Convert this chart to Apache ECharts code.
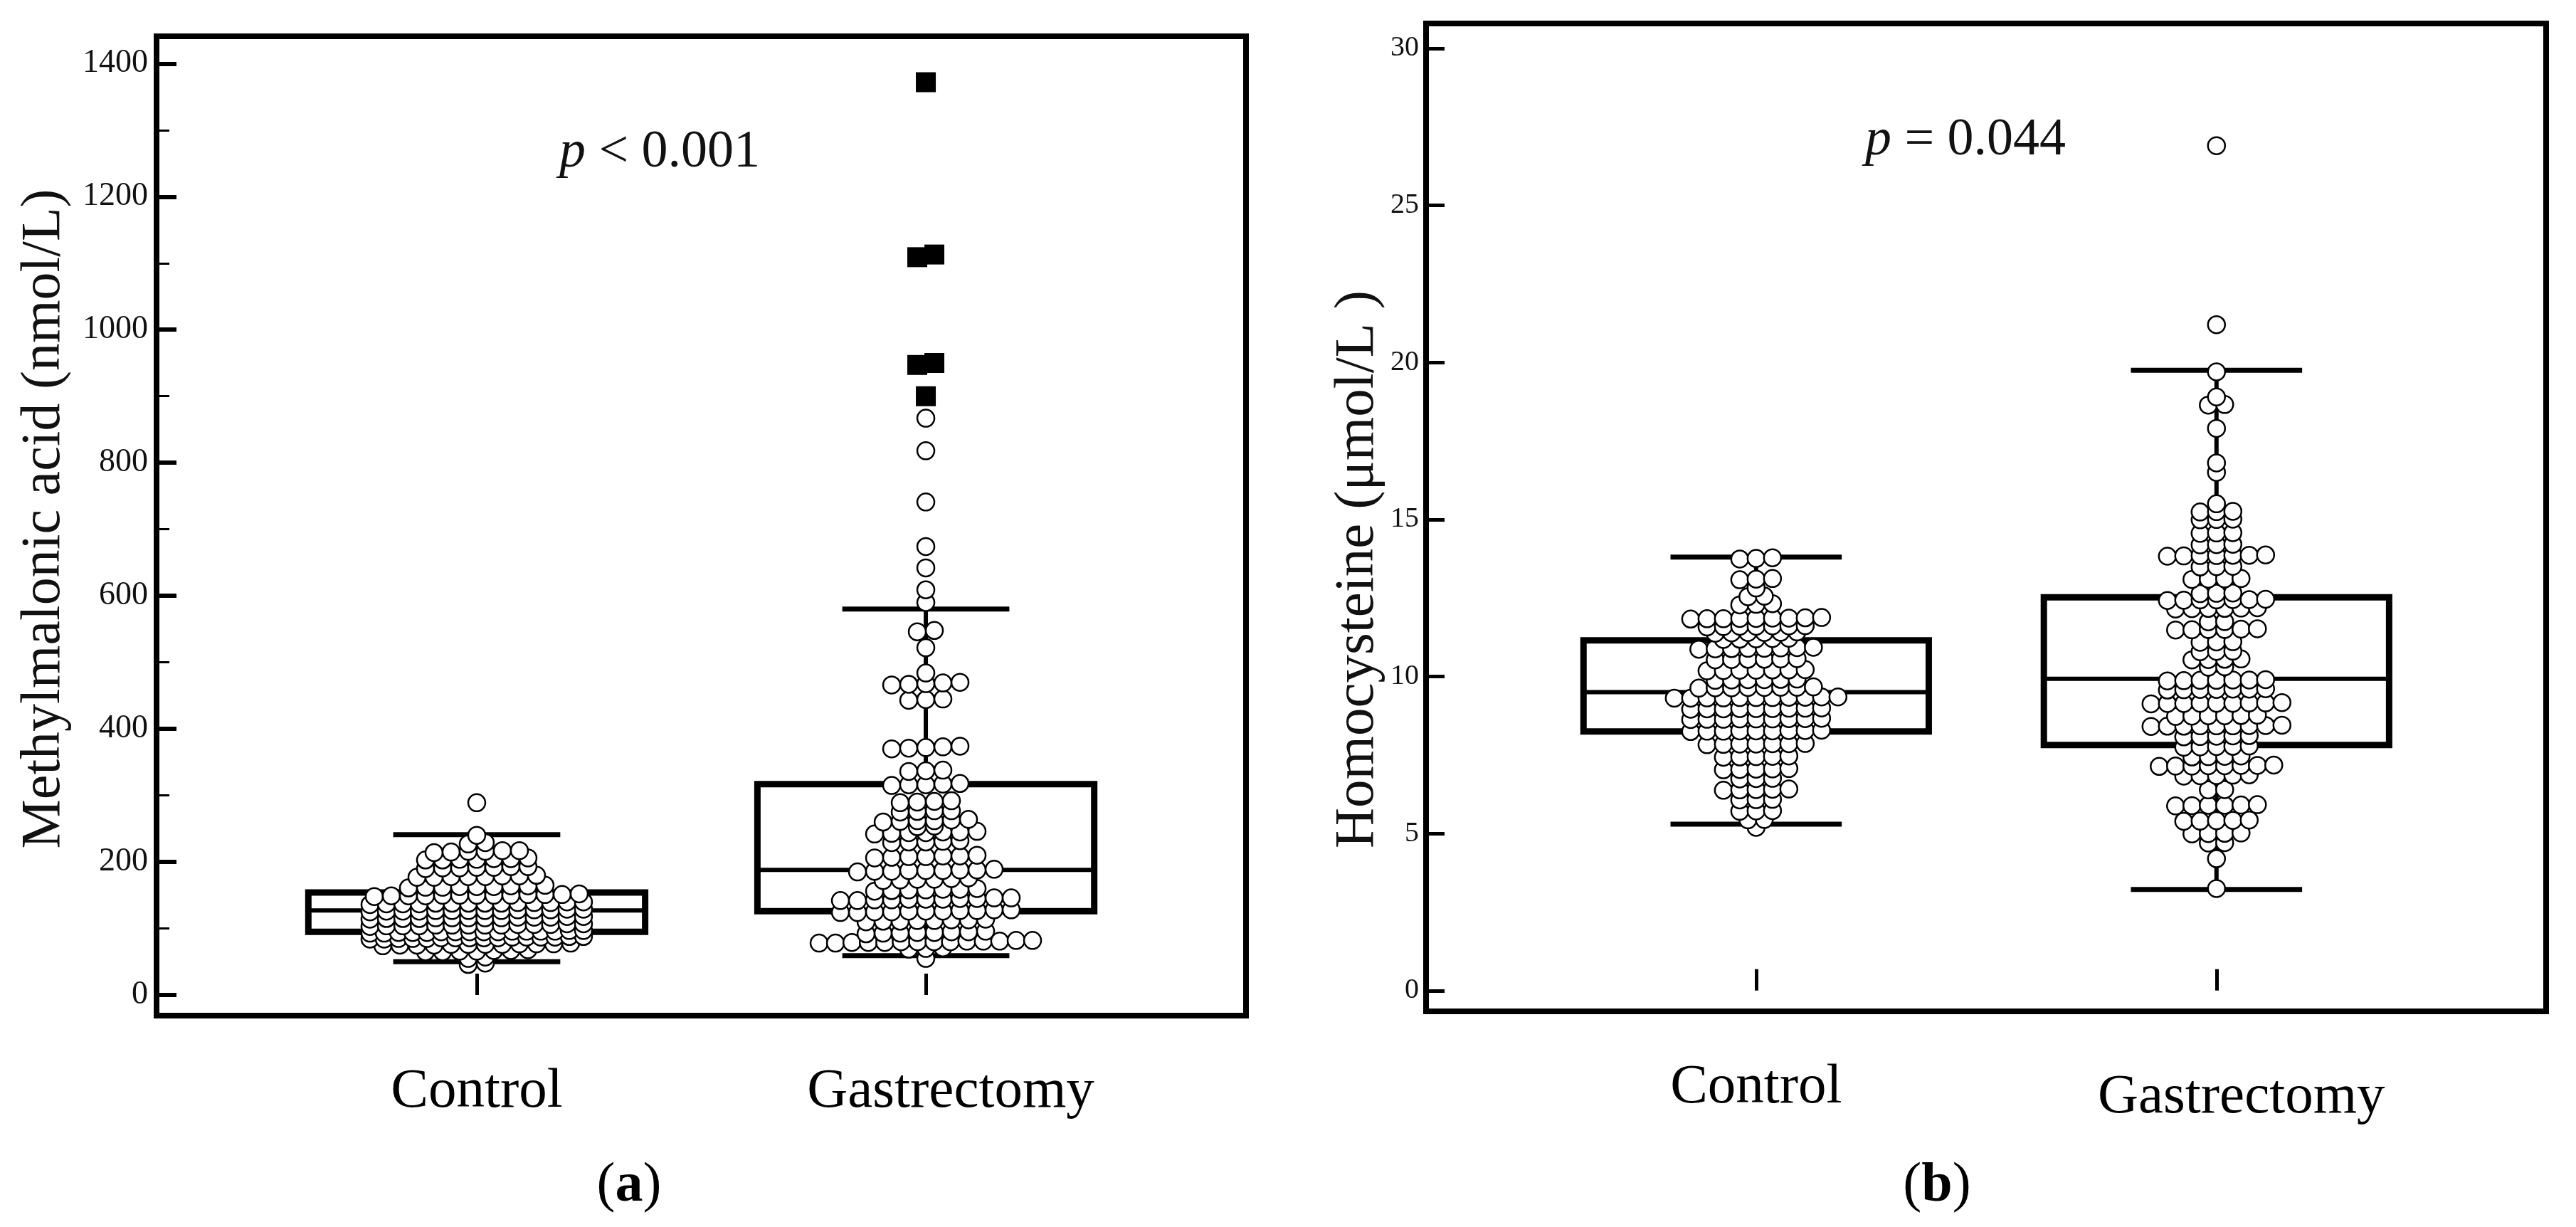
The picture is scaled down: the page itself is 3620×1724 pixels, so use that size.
<!DOCTYPE html>
<html>
<head>
<meta charset="utf-8">
<script src="https://cdn.jsdelivr.net/npm/echarts@6/dist/echarts.min.js"></script>
<style>
  html, body { margin: 0; padding: 0; background: #fff; }
  #chart { width: 3620px; height: 1724px; }
</style>
</head>
<body>
<div id="chart"></div>
<script>
// groups and axis ticks
var groups = ['Control', 'Gastrectomy'];
var mmaTicks = [0, 200, 400, 600, 800, 1000, 1200, 1400];
var mmaMinorTicks = [100, 300, 500, 700, 900, 1100, 1300];
var hcyTicks = [0, 5, 10, 15, 20, 25, 30];

// box stats: [min, Q1, median, Q3, max]
var mmaControlBox = [50, 95, 127, 154, 241];
var mmaGastroBox = [59, 126, 188, 317, 580];
var hcyControlBox = [5.3, 8.25, 9.5, 11.15, 13.8];
var hcyGastroBox = [3.22, 7.82, 9.93, 12.52, 19.75];

// methylmalonic acid (nmol/L)
var mmaControl = [
  289,
  240,
  229, 227,
  217, 216, 216, 215, 217, 214,
  205, 204, 203, 205, 204, 203, 206,
  193, 191, 192, 190, 193, 192, 191,
  179, 178, 177, 178, 180, 177, 179, 178,
  164, 163, 162, 163, 165, 162, 164, 163, 161,
  151, 150, 149, 150, 152, 149, 151, 150, 148, 150, 151, 149, 150,
  139, 138, 137, 138, 140, 137, 139, 138, 136, 138, 139, 137, 138, 140,
  128, 127, 126, 127, 129, 126, 128, 127, 125, 127, 128, 126, 127, 129,
  117, 116, 115, 116, 118, 115, 117, 116, 114, 116, 117, 115, 116, 118,
  106, 105, 104, 105, 107, 104, 106, 105, 103, 105, 106, 104, 105, 107,
  96, 95, 94, 95, 97, 94, 96, 95, 93, 95, 96, 94, 95, 97, 93, 96,
  87, 86, 85, 86, 88, 85, 87, 86, 84, 86, 87, 85, 86, 88, 84, 87,
  77, 76, 75, 76, 78, 75, 77, 76, 74, 76, 77, 75,
  67, 66, 65, 66, 68, 65, 67,
  57, 55,
  48, 46
];
var mmaGastro = [
  867, 818, 741, 674, 642, 609, 590, 548, 546, 522, 484,
  470, 468, 467, 469, 466,
  445, 443, 444,
  373, 372, 371, 374, 370,
  338, 337, 336,
  317, 316, 315, 318, 316,
  291, 290, 289, 292,
  277, 276, 275, 277,
  263, 262, 261, 264, 262, 260,
  254, 253,
  245, 244, 243, 246, 244, 242, 245,
  231, 230, 229, 232, 230,
  209, 208, 207, 210, 208, 206, 209,
  188, 187, 186, 189, 187, 185, 188, 186, 187,
  175, 174, 173, 176, 174, 172,
  159, 158, 157, 160, 158, 156, 159,
  145, 144, 143, 146, 144, 142, 145, 143, 144, 146, 142,
  127, 126, 125, 128, 126, 124, 127, 125, 126, 128, 124,
  113, 112, 111, 114, 112, 110, 113, 111,
  95, 94, 93, 96, 94, 92, 95, 93,
  81, 80, 79, 82, 80, 78, 81, 79, 80, 82, 78, 81, 79, 80,
  71, 70, 69,
  55
];
// far-out values, drawn as filled squares
var mmaGastroFar = [1372, 1113, 1109, 950, 947, 900];

// homocysteine (umol/L)
var hcyControl = [
  13.78, 13.74, 13.76,
  13.12, 13.08, 13.1,
  12.82,
  12.56, 12.54,
  12.3, 12.28, 12.32,
  11.86, 11.84, 11.85, 11.87, 11.83, 11.86, 11.84, 11.85, 11.88,
  11.61, 11.6, 11.59, 11.62, 11.58, 11.6, 11.61,
  11.4, 11.41, 11.39, 11.42, 11.38, 11.4,
  11.2, 11.21, 11.19, 11.22, 11.18,
  10.9, 10.91, 10.89, 10.92, 10.88, 10.9, 10.93, 10.87,
  10.55, 10.56, 10.54, 10.57, 10.53, 10.55,
  10.2, 10.21, 10.19, 10.22, 10.18, 10.2, 10.21,
  9.9, 9.91, 9.89, 9.92, 9.88, 9.9,
  9.65, 9.66, 9.64, 9.67, 9.63, 9.65, 9.66, 9.64,
  9.33, 9.34, 9.32, 9.35, 9.31, 9.33, 9.34, 9.32, 9.35, 9.31, 9.33,
  8.98, 8.99, 8.97, 9.0, 8.96, 8.98, 8.99, 8.97, 8.98,
  8.65, 8.66, 8.64, 8.67, 8.63, 8.65, 8.66, 8.64, 8.65,
  8.27, 8.28, 8.26, 8.29, 8.25, 8.27, 8.28, 8.26, 8.27,
  7.85, 7.86, 7.84, 7.87, 7.83, 7.85, 7.86,
  7.45, 7.46, 7.44, 7.47, 7.43,
  7.05, 7.06, 7.04, 7.07, 7.03,
  6.75, 6.76, 6.74,
  6.4, 6.41, 6.39, 6.42, 6.38,
  6.08, 6.09, 6.07,
  5.72, 5.73, 5.71,
  5.45, 5.44,
  5.2
];
var hcyGastro = [
  26.9, 21.2, 19.7, 18.9, 18.66, 18.64, 17.9, 16.8, 16.5, 15.5,
  15.26, 15.24, 15.25,
  15.0, 15.01, 14.99,
  14.57, 14.58, 14.56,
  14.2, 14.21, 14.19,
  13.85, 13.86, 13.84, 13.87, 13.83, 13.85, 13.86,
  13.5, 13.51, 13.49,
  13.1, 13.11, 13.09, 13.12,
  12.65, 12.66, 12.64,
  12.44, 12.45, 12.43, 12.46, 12.42, 12.44, 12.45,
  12.17, 12.18, 12.16, 12.19, 12.15, 12.17,
  11.74, 11.75,
  11.5, 11.51, 11.49, 11.52, 11.48, 11.5,
  11.1, 11.11, 11.09,
  10.8, 10.81, 10.79,
  10.54, 10.55, 10.53, 10.56,
  10.3, 10.31,
  9.88, 9.89, 9.87, 9.9, 9.86, 9.88, 9.89,
  9.59, 9.6, 9.58, 9.61, 9.57, 9.59, 9.6,
  9.15, 9.16, 9.14, 9.17, 9.13, 9.15, 9.16, 9.14, 9.15,
  8.75, 8.76, 8.74, 8.77, 8.73, 8.75,
  8.43, 8.44, 8.42, 8.45, 8.41, 8.43, 8.44, 8.42, 8.43,
  8.1, 8.11, 8.09, 8.12, 8.08,
  7.77, 7.78, 7.76, 7.79, 7.75,
  7.45, 7.46, 7.44, 7.47,
  7.16, 7.17, 7.15, 7.18, 7.14, 7.16, 7.17, 7.15,
  6.85, 6.86, 6.84, 6.87, 6.83,
  6.39, 6.4,
  5.9, 5.91, 5.89, 5.92, 5.88, 5.9,
  5.41, 5.42, 5.4, 5.43, 5.39,
  5.0, 5.01, 4.99, 5.02,
  4.7, 4.71,
  4.2, 3.25
];

var serif = "'Liberation Serif', 'Times New Roman', serif";

// panel layout (px) and axis ranges
var panelA = { left: 220, top: 51, width: 1531, height: 1376, xMin: 0.287, xMax: 2.713, yMin: -31, yMax: 1441 };
var panelB = { left: 2004, top: 33, width: 1574, height: 1388, xMin: 0.283, xMax: 2.716, yMin: -0.66, yMax: 30.79 };

// dot-plot layout: values close together share a row, rows are centred
// and squeezed when they get wider than maxW
function dotRows(values, center, panel, tol, dot, maxW) {
  var pxPerUnit = panel.width / (panel.xMax - panel.xMin);
  var sorted = values.slice().sort(function (a, b) { return a - b; });
  var rows = [], cur = null;
  sorted.forEach(function (v) {
    if (!cur || v - cur.start > tol) {
      cur = { start: v, vals: [] };
      rows.push(cur);
    }
    cur.vals.push(v);
  });
  var pts = [];
  rows.forEach(function (r) {
    var n = r.vals.length;
    var step = n > 1 ? Math.min(dot, maxW / (n - 1)) : 0;
    r.vals.forEach(function (v, i) {
      pts.push([center + (i - (n - 1) / 2) * step / pxPerUnit, v]);
    });
  });
  return pts;
}

function boxItem(params, api) {
  var c = api.value(0);
  var lo = api.value(1), q1 = api.value(2), md = api.value(3), q3 = api.value(4), hi = api.value(5);
  var hw = 0.375, cw = 0.186;
  function p(x, y) { return api.coord([x, y]); }
  function seg(x1, y1, x2, y2, w) {
    var a = p(x1, y1), b = p(x2, y2);
    return { type: 'line', shape: { x1: a[0], y1: a[1], x2: b[0], y2: b[1] },
      style: { stroke: '#000', lineWidth: w } };
  }
  var tl = p(c - hw, q3), br = p(c + hw, q1);
  return {
    type: 'group',
    children: [
      seg(c, q3, c, hi, 6),
      seg(c, q1, c, lo, 6),
      seg(c - cw, hi, c + cw, hi, 7),
      seg(c - cw, lo, c + cw, lo, 7),
      { type: 'rect', shape: { x: tl[0], y: tl[1], width: br[0] - tl[0], height: br[1] - tl[1] },
        style: { fill: 'none', stroke: '#000', lineWidth: 9 } },
      seg(c - hw, md, c + hw, md, 6)
    ]
  };
}

function xAxisFor(gridIndex, panel, labelShift) {
  return {
    type: 'value', gridIndex: gridIndex, min: panel.xMin, max: panel.xMax,
    axisLine: { show: false },
    splitLine: { show: false },
    axisTick: { show: true, inside: true, length: 30, customValues: [1, 2],
      lineStyle: { color: '#000', width: 5 } },
    axisLabel: {
      customValues: [1, 2], margin: 68, color: '#000',
      fontFamily: serif, fontSize: 79,
      formatter: function (v) { return v === 1 ? groups[0] : '{g|' + groups[1] + '}'; },
      rich: { g: { fontFamily: serif, fontSize: 79, color: '#000', padding: [labelShift, 0, 0, 70] } }
    }
  };
}

function plainLabel(v) { return String(v); }

var chart = echarts.init(document.getElementById('chart'));

var option = {
  backgroundColor: '#fff',
  animation: false,
  grid: [
    { left: panelA.left, top: panelA.top, width: panelA.width, height: panelA.height,
      show: true, borderColor: '#000', borderWidth: 8, backgroundColor: 'transparent' },
    { left: panelB.left, top: panelB.top, width: panelB.width, height: panelB.height,
      show: true, borderColor: '#000', borderWidth: 8, backgroundColor: 'transparent' }
  ],
  xAxis: [xAxisFor(0, panelA, 0), xAxisFor(1, panelB, 14)],
  yAxis: [
    { type: 'value', gridIndex: 0, position: 'left', min: panelA.yMin, max: panelA.yMax,
      axisLine: { show: false }, splitLine: { show: false },
      axisTick: { show: true, inside: true, length: 28, customValues: mmaTicks,
        lineStyle: { color: '#000', width: 6 } },
      axisLabel: { customValues: mmaTicks, margin: 12, color: '#111', fontFamily: serif, fontSize: 46,
        formatter: plainLabel } },
    { type: 'value', gridIndex: 0, position: 'left', min: panelA.yMin, max: panelA.yMax,
      axisLine: { show: false }, splitLine: { show: false },
      axisTick: { show: true, inside: true, length: 18, customValues: mmaMinorTicks,
        lineStyle: { color: '#000', width: 3 } },
      axisLabel: { show: false } },
    { type: 'value', gridIndex: 1, position: 'left', min: panelB.yMin, max: panelB.yMax,
      axisLine: { show: false }, splitLine: { show: false },
      axisTick: { show: true, inside: true, length: 26, customValues: hcyTicks,
        lineStyle: { color: '#000', width: 5 } },
      axisLabel: { customValues: hcyTicks, margin: 10, color: '#111', fontFamily: serif, fontSize: 40,
        formatter: plainLabel } }
  ],
  graphic: [
    { type: 'text', x: 63, y: 729, rotation: Math.PI / 2,
      style: { text: 'Methylmalonic acid (nmol/L)', fontFamily: serif, fontSize: 78, fill: '#111',
        textAlign: 'center', textVerticalAlign: 'middle' } },
    { type: 'text', x: 1908, y: 800, rotation: Math.PI / 2,
      style: { text: 'Homocysteine (\u03bcmol/L )', fontFamily: serif, fontSize: 79, fill: '#111',
        textAlign: 'center', textVerticalAlign: 'middle' } },
    { type: 'text', x: 927, y: 215,
      style: { text: '{i|p} < 0.001', fontFamily: serif, fontSize: 74, fill: '#111',
        textAlign: 'center', textVerticalAlign: 'middle',
        rich: { i: { fontFamily: serif, fontSize: 74, fontStyle: 'italic', fill: '#111' } } } },
    { type: 'text', x: 2762, y: 198,
      style: { text: '{i|p} = 0.044', fontFamily: serif, fontSize: 74, fill: '#111',
        textAlign: 'center', textVerticalAlign: 'middle',
        rich: { i: { fontFamily: serif, fontSize: 74, fontStyle: 'italic', fill: '#111' } } } },
    { type: 'text', x: 884, y: 1667,
      style: { text: '({b|a})', fontFamily: serif, fontSize: 78, fill: '#000',
        textAlign: 'center', textVerticalAlign: 'middle',
        rich: { b: { fontFamily: serif, fontSize: 78, fontWeight: 'bold', fill: '#000' } } } },
    { type: 'text', x: 2722, y: 1667,
      style: { text: '({b|b})', fontFamily: serif, fontSize: 78, fill: '#000',
        textAlign: 'center', textVerticalAlign: 'middle',
        rich: { b: { fontFamily: serif, fontSize: 78, fontWeight: 'bold', fill: '#000' } } } }
  ],
  series: [
    { type: 'custom', xAxisIndex: 0, yAxisIndex: 0, renderItem: boxItem, z: 1,
      encode: { x: 0, y: [1, 2, 3, 4, 5] },
      data: [[1].concat(mmaControlBox), [2].concat(mmaGastroBox)] },
    { type: 'custom', xAxisIndex: 1, yAxisIndex: 2, renderItem: boxItem, z: 1,
      encode: { x: 0, y: [1, 2, 3, 4, 5] },
      data: [[1].concat(hcyControlBox), [2].concat(hcyGastroBox)] },
    { type: 'scatter', xAxisIndex: 0, yAxisIndex: 0, z: 3, symbol: 'circle', symbolSize: 24,
      itemStyle: { color: '#fff', borderColor: '#000', borderWidth: 2.5, opacity: 1 },
      data: dotRows(mmaControl, 1, panelA, 5, 24, 300).concat(dotRows(mmaGastro, 2, panelA, 5, 24, 300)) },
    { type: 'scatter', xAxisIndex: 0, yAxisIndex: 0, z: 4, symbol: 'rect', symbolSize: 28,
      itemStyle: { color: '#000', opacity: 1 },
      data: dotRows(mmaGastroFar, 2, panelA, 5, 24, 300) },
    { type: 'scatter', xAxisIndex: 1, yAxisIndex: 2, z: 3, symbol: 'circle', symbolSize: 24,
      itemStyle: { color: '#fff', borderColor: '#000', borderWidth: 2.5, opacity: 1 },
      data: dotRows(hcyControl, 1, panelB, 0.1, 23, 290).concat(dotRows(hcyGastro, 2, panelB, 0.1, 23, 290)) }
  ]
};

chart.setOption(option);
</script>
</body>
</html>
